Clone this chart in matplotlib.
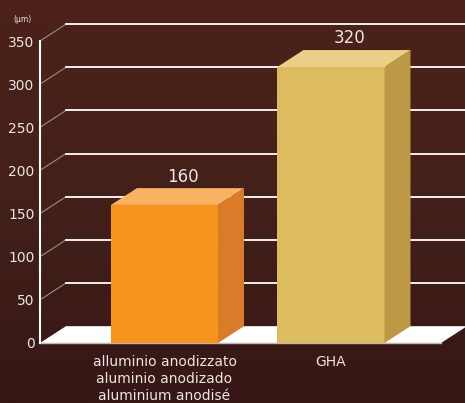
import numpy as np
import matplotlib.pyplot as plt
from matplotlib.patches import Polygon
from matplotlib.colors import LinearSegmentedColormap

categories = ['alluminio anodizzato\naluminio anodizado\naluminium anodisé', 'GHA']
values = [160, 320]
value_labels = ['160', '320']
yticks = [0, 50, 100, 150, 200, 250, 300, 350]
unit_label = '(μm)'

front_cols = ['#F7941D', '#DDBB5F']
side_cols = ['#D97B29', '#BD9946']
top_cols = ['#F9B163', '#EBCF86']
txt = '#ECE6E3'

# 3d depth in data units
ddx = 0.156
ddy = 19.5
bw = 0.643

fig = plt.figure(figsize=(4.65, 4.03), dpi=100)

bg = fig.add_axes([0, 0, 1, 1])
grad = np.linspace(0, 1, 256).reshape(-1, 1)
cmap = LinearSegmentedColormap.from_list('bg', ['#4C2219', '#43201A', '#361715'])
bg.imshow(grad, aspect='auto', cmap=cmap, extent=[0, 1, 0, 1])
bg.axis('off')

ax = fig.add_axes([40/465, 60/403, 425/465, 302/403])
ax.patch.set_alpha(0)
ax.set_ylim(0, 350)
ax.set_xlim(-0.748, 1.805)
for s in ax.spines.values():
    s.set_visible(False)

x0 = ax.get_xlim()[0]
x1 = ax.get_xlim()[1]

# gridlines: diagonal from axis then horizontal
for t in yticks[1:]:
    ax.plot([x0, x0 + ddx], [t, t + ddy], color='#9C8A84', lw=0.8, clip_on=False, zorder=1)
    ax.plot([x0 + ddx, x1], [t + ddy, t + ddy], color='white', lw=1.3, clip_on=False, zorder=1)

# floor
fr = 1.661
ax.add_patch(Polygon([[x0, 0], [fr, 0], [fr + ddx, ddy], [x0 + ddx, ddy]],
                     closed=True, fc='white', ec='none', zorder=2, clip_on=False))
ax.plot([x0, fr], [0, 0], color='#BDB3B0', lw=1, zorder=2, clip_on=False)

# axis line
ax.plot([x0, x0], [0, 350], color='white', lw=1.5, clip_on=False, zorder=3)

for i, v in enumerate(values):
    l = i - bw/2
    r = i + bw/2
    ax.add_patch(Polygon([[l, 0], [r, 0], [r, v], [l, v]], closed=True,
                         fc=front_cols[i], ec='none', zorder=4))
    ax.add_patch(Polygon([[r, 0], [r + ddx, ddy], [r + ddx, v + ddy], [r, v]], closed=True,
                         fc=side_cols[i], ec='none', zorder=4))
    ax.add_patch(Polygon([[l, v], [r, v], [r + ddx, v + ddy], [l + ddx, v + ddy]], closed=True,
                         fc=top_cols[i], ec='none', zorder=4, clip_on=False))
    ax.text(i + 0.11, v + ddy + 3, value_labels[i], color=txt, fontsize=12,
            ha='center', va='bottom', zorder=5, clip_on=False)

ax.set_yticks(yticks)
ax.set_yticklabels([str(t) for t in yticks], color=txt, fontsize=10)
ax.tick_params(axis='y', length=0, pad=4)
ax.set_xticks(range(len(categories)))
ax.set_xticklabels(categories, color=txt, fontsize=10, linespacing=1.25, va='top')
ax.tick_params(axis='x', length=0, pad=9)

fig.text(22/465, 1 - 19/403, unit_label, color=txt, fontsize=5.5, ha='center', va='center')

fig.savefig('out.png', dpi=100)
